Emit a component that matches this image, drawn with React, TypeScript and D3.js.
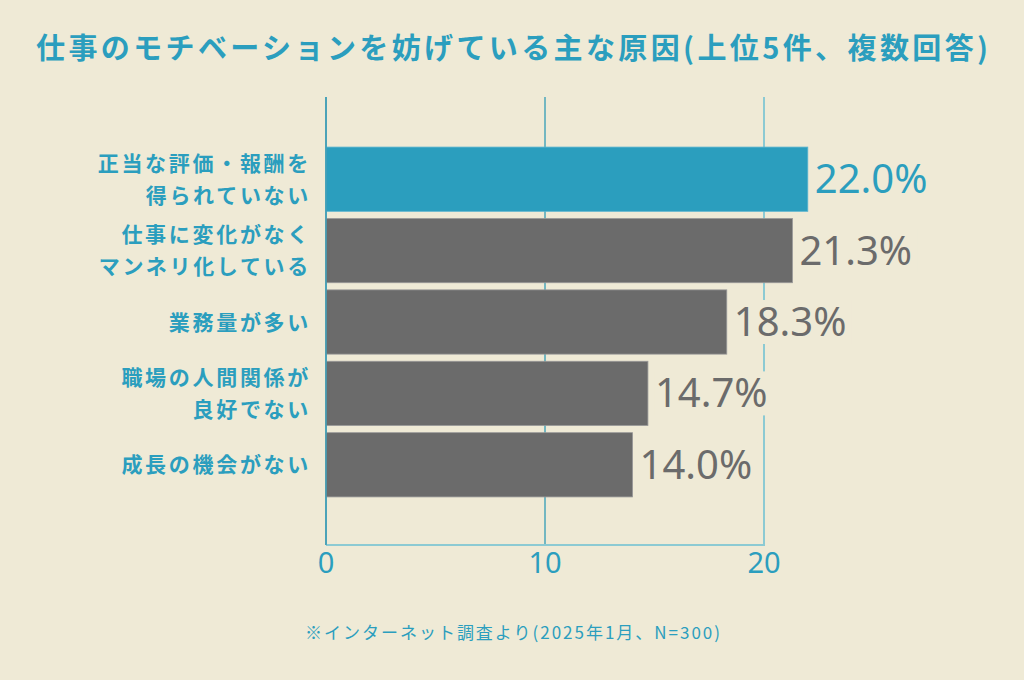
import React from 'react';
import * as d3 from 'd3';

const width = 1024;
const height = 680;

const categories = ['正当な評価・報酬を\n得られていない', '仕事に変化がなく\nマンネリ化している', '業務量が多い', '職場の人間関係が\n良好でない', '成長の機会がない'];
const values = [22.0, 21.3, 18.3, 14.7, 14.0];
const highlight = [true, false, false, false, false];
const xTicks = [0, 10, 20];

const title = '仕事のモチベーションを妨げている主な原因(上位5件、複数回答)';
const note = '※インターネット調査より(2025年1月、N=300)';

const bg = '#efead6';
const teal = '#2b9ebe';
const gray = '#6b6b6b';
const lightTeal = '#8ccad3';

const jp = '"Noto Sans CJK JP", "Noto Sans", sans-serif';

export default function App() {
  const x = d3.scaleLinear().domain([0, 20]).range([326, 764]);
  const y = d3.scaleBand<string>().domain(categories).range([143.5, 500.5]).paddingInner(0.1).paddingOuter(0.05);
  const gridTop = 97;
  const gridBottom = 545;

  return (
    <svg width={width} height={height} style={{ display: 'block', position: 'absolute', left: 0, top: 0 }}>
      <rect x={0} y={0} width={width} height={height} fill={bg} />

      <text x={512} y={59} textAnchor="middle" fill={teal} fontFamily={jp} fontWeight={700} fontSize={29}
        textLength={952} lengthAdjust="spacing">{title}</text>

      {/* grid */}
      {xTicks.map((t, i) => (
        <line key={'g' + t} x1={x(t)} x2={x(t)} y1={gridTop} y2={gridBottom}
          stroke={i === xTicks.length - 1 ? lightTeal : '#4aa6ba'} strokeWidth={i === xTicks.length - 1 ? 2 : 1.5} />
      ))}
      <line x1={x(0)} x2={x(20) + 1} y1={gridBottom} y2={gridBottom} stroke={lightTeal} strokeWidth={2} />

      {/* bars */}
      {categories.map((c, i) => (
        <rect key={'b' + i} x={x(0)} y={y(c)} width={x(values[i]) - x(0)} height={y.bandwidth()}
          fill={highlight[i] ? teal : gray} stroke={highlight[i] ? '#5bb4cf' : '#999'} strokeWidth={0.8} />
      ))}
      <line x1={x(0)} x2={x(0)} y1={gridTop} y2={gridBottom} stroke="#3f9db4" strokeWidth={1.5} />

      {/* value labels */}
      {categories.map((c, i) => {
        const cy = (y(c) as number) + y.bandwidth() / 2;
        const lx = x(values[i]) + 7;
        return (
          <g key={'v' + i}>
            <rect x={lx} y={cy - 22} width={118} height={44} fill={bg} />
            <text x={lx} y={cy + 14} fill={highlight[i] ? teal : gray} fontFamily='"Noto Sans", sans-serif'
              fontSize={40}>{values[i].toFixed(1) + '%'}</text>
          </g>
        );
      })}

      {/* category labels */}
      {categories.map((c, i) => {
        const lines = c.split('\n');
        const cy = (y(c) as number) + y.bandwidth() / 2;
        return lines.map((l, j) => (
          <text key={'c' + i + j} x={311} y={cy + (j - (lines.length - 1) / 2) * 32 + 7.5} textAnchor="end"
            fill={teal} fontFamily={jp} fontWeight={700} fontSize={21} letterSpacing={2.7}>{l}</text>
        ));
      })}

      {/* x axis labels */}
      {xTicks.map(t => (
        <text key={'t' + t} x={x(t)} y={573} textAnchor="middle" fill={teal} fontFamily='"Noto Sans", sans-serif'
          fontSize={29}>{t}</text>
      ))}

      <text x={305} y={639} fill={teal} fontFamily={jp} fontSize={17} textLength={415} lengthAdjust="spacing">{note}</text>
    </svg>
  );
}
